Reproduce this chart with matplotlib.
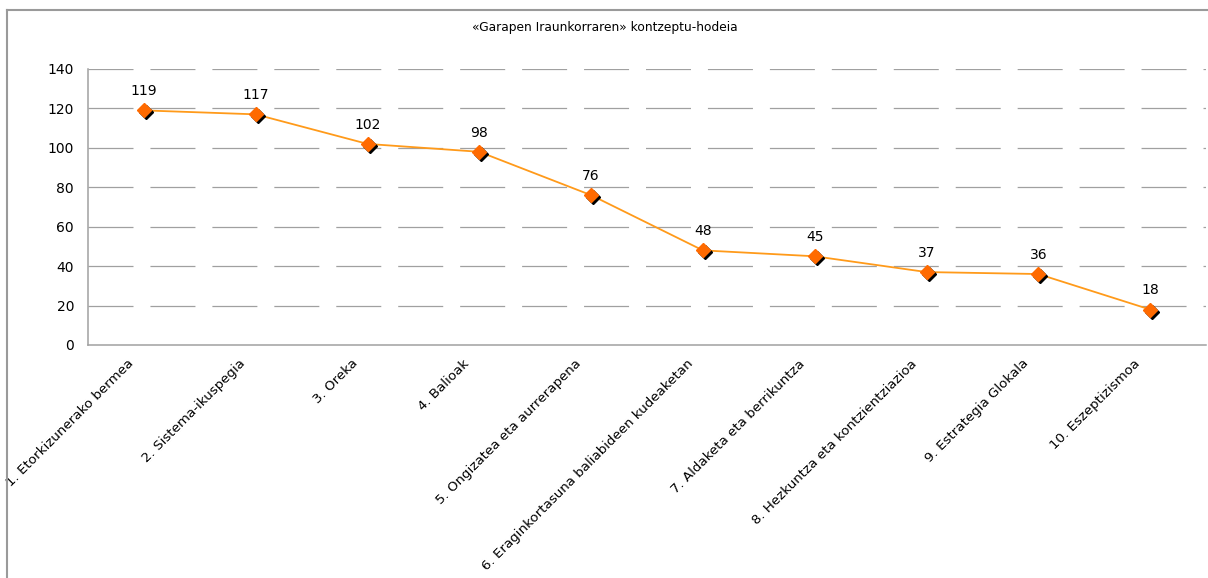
import matplotlib
matplotlib.use("Agg")
import matplotlib.pyplot as plt
from matplotlib.lines import Line2D
from matplotlib.transforms import offset_copy, ScaledTranslation

categories = [
    "1. Etorkizunerako bermea",
    "2. Sistema-ikuspegia",
    "3. Oreka",
    "4. Balioak",
    "5. Ongizatea eta aurrerapena",
    "6. Eraginkortasuna baliabideen kudeaketan",
    "7. Aldaketa eta berrikuntza",
    "8. Hezkuntza eta kontzientziazioa",
    "9. Estrategia Glokala",
    "10. Eszeptizismoa",
]
values = [119, 117, 102, 98, 76, 48, 45, 37, 36, 18]
y_ticks = [0, 20, 40, 60, 80, 100, 120, 140]
title = "«Garapen Iraunkorraren» kontzeptu-hodeia"

W, H = 1208, 578
plt.rcParams['font.family'] = ['DejaVu Sans']
plt.rcParams['lines.scale_dashes'] = False

fig = plt.figure(figsize=(W / 100, H / 100), dpi=100)
fig.patch.set_facecolor('white')

left, right, top, bottom = 88, 1206, 69, 345
ax = fig.add_axes([left / W, (H - bottom) / H, (right - left) / W, (bottom - top) / H])

x = list(range(len(categories)))
ax.set_xlim(-0.5, len(categories) - 0.5)
ax.set_ylim(0, 140)
ax.set_yticks(y_ticks)
ax.set_yticklabels([str(v) for v in y_ticks], fontsize=10)
ax.set_xticks(x)
ax.set_xticklabels(categories, rotation=45, ha='right', va='center',
                   rotation_mode='anchor', fontsize=9.6)
ax.tick_params(axis='both', length=0)
ax.tick_params(axis='y', pad=10)
ax.tick_params(axis='x', pad=12)
shift = ScaledTranslation(-12 / 100, 0, fig.dpi_scale_trans)
for lbl in ax.get_xticklabels():
    lbl.set_transform(lbl.get_transform() + shift)

grid_color = '#a0a0a0'
for v in y_ticks[1:]:
    ax.axhline(v, color=grid_color, lw=0.9, dashes=(32.4, 12.2), zorder=0)

for s in ['top', 'right']:
    ax.spines[s].set_visible(False)
for s in ['left', 'bottom']:
    ax.spines[s].set_color(grid_color)
    ax.spines[s].set_linewidth(1.1)

line_color = '#ff9a1a'
marker_color = '#ff6a00'
ax.plot(x, values, color=line_color, lw=1.3, zorder=3)
shadow = offset_copy(ax.transData, fig=fig, x=2, y=-2, units='dots')
ax.plot(x, values, linestyle='none', marker='D', markersize=7,
        color='black', transform=shadow, zorder=4)
ax.plot(x, values, linestyle='none', marker='D', markersize=7,
        markerfacecolor=marker_color, markeredgecolor=marker_color, zorder=5)

for xi, v in zip(x, values):
    ax.annotate(str(v), (xi, v), xytext=(0, 11), textcoords='offset points',
                ha='center', va='baseline', fontsize=10)

fig.text(605 / W, 1 - 28 / H, title, ha='center', va='center', fontsize=8.8)

frame_color = '#9a9a9a'
fig.add_artist(Line2D([7 / W, 7 / W], [0, 1 - 10 / H], transform=fig.transFigure,
                      color=frame_color, lw=1.5))
fig.add_artist(Line2D([7 / W, 1207 / W], [1 - 10 / H, 1 - 10 / H], transform=fig.transFigure,
                      color=frame_color, lw=1.5))

fig.savefig("out.png", dpi=100)
